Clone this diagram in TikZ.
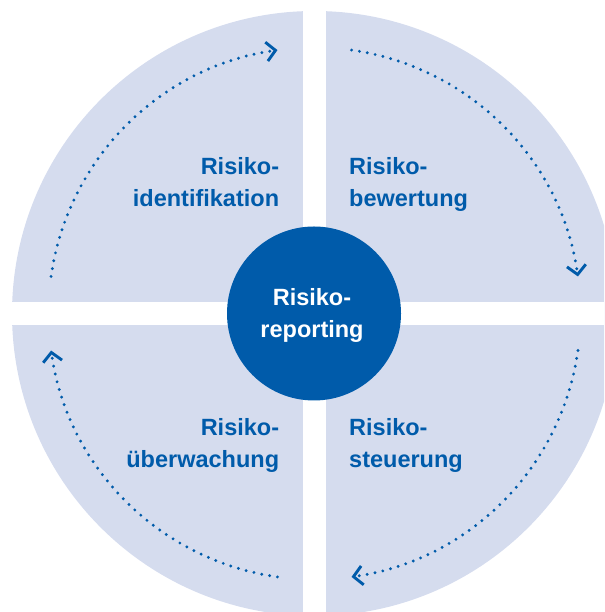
\documentclass[tikz,border=0pt]{standalone}
\usepackage{fontspec}
\setmainfont{Liberation Sans}
\usetikzlibrary{arrows.meta,calc}
\definecolor{paleblue}{RGB}{213,220,238}
\definecolor{deepblue}{RGB}{0,91,170}
\begin{document}
\begin{tikzpicture}[x=1pt,y=1pt,
  quadtext/.style={text=deepblue, font=\fontsize{23.5}{32}\selectfont\bfseries, inner sep=0pt},
  cyc/.style={deepblue, line width=3.2pt, line cap=round, dash pattern=on 0pt off 8pt,
    -{Straight Barb[length=9pt,width=19pt,line width=2.9pt]}}]
\useasboundingbox (0,0) rectangle (604,612);
\coordinate (C) at (314.5,298.5);
\begin{scope}
  \clip (0,0) rectangle (604,612);
  \fill[paleblue] (C) circle[radius=302.5];
  \fill[white] (303,-10) rectangle (326,620);
  \fill[white] (-10,287) rectangle (620,310);
\end{scope}
\node[circle, fill=deepblue, minimum size=174pt, inner sep=0pt] (rep) at (314,298.5) {};
\node[quadtext, text=white, align=center, anchor=base] (reptxt) at (312,274.7) {Risiko-\\reporting};
\node[quadtext, anchor=base east, align=right] (ident) at (279.3,405) {Risiko-\\identifikation};
\node[quadtext, anchor=base west, align=left] (bew) at (349,405) {Risiko-\\bewertung};
\node[quadtext, anchor=base east, align=right] (ueber) at (279.3,144) {Risiko-\\überwachung};
\node[quadtext, anchor=base west, align=left] (steu) at (349,144) {Risiko-\\steuerung};
\coordinate (s1) at ($(C)+(172:266)$);
\coordinate (s2) at ($(C)+(82:266)$);
\coordinate (s3) at ($(C)+(-8:266)$);
\coordinate (s4) at ($(C)+(-98:266)$);
\draw[cyc] (s1) arc[start angle=172, end angle=98, radius=266];
\draw[cyc] (s2) arc[start angle=82, end angle=8, radius=266];
\draw[cyc] (s3) arc[start angle=-8, end angle=-82, radius=266];
\draw[cyc] (s4) arc[start angle=-98, end angle=-172, radius=266];
\end{tikzpicture}
\end{document}
